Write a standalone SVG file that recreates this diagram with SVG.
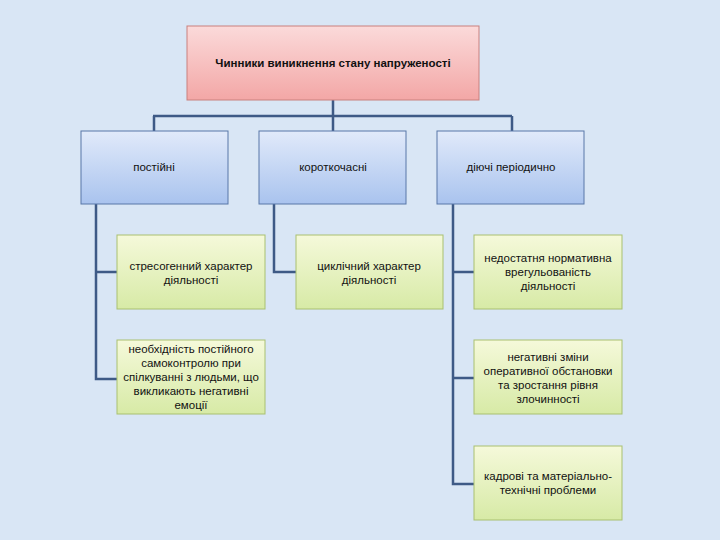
<svg xmlns="http://www.w3.org/2000/svg" width="720" height="540" viewBox="0 0 720 540">
<defs>
<linearGradient id="gPink" x1="0" y1="0" x2="0" y2="1"><stop offset="0" stop-color="#fbdada"/><stop offset="1" stop-color="#f3a7a6"/></linearGradient>
<linearGradient id="gBlue" x1="0" y1="0" x2="0" y2="1"><stop offset="0" stop-color="#e1eafa"/><stop offset="1" stop-color="#a9c3ee"/></linearGradient>
<linearGradient id="gGreen" x1="0" y1="0" x2="0" y2="1"><stop offset="0" stop-color="#f5f9da"/><stop offset="1" stop-color="#d7eaa6"/></linearGradient>
<style>
.bg{fill:#d9e6f5}
.pink{fill:url(#gPink);stroke:#c9807e;stroke-width:1}
.blue{fill:url(#gBlue);stroke:#5877a8;stroke-width:1}
.green{fill:url(#gGreen);stroke:#a9c071;stroke-width:1}
.conn{fill:none;stroke:#3e5a86;stroke-width:2.5}
text{font-family:"Liberation Sans","DejaVu Sans",sans-serif;font-size:11.5px;fill:#111;text-anchor:middle}
.title{font-weight:bold;font-size:11.5px}
</style>
</defs>
<rect class="bg" x="0" y="0" width="720" height="540"/>
<g id="connectors">
<path class="conn" d="M333 100V116M153 116H512M154 116V131M333 116V131M512 116V131"/>
<path class="conn" d="M96 204V379H117M96 272H117"/>
<path class="conn" d="M274 204V272H296"/>
<path class="conn" d="M453 204V484H474M453 272H474M453 378H474"/>
</g>
<g id="root"><rect class="pink" x="187" y="26" width="292" height="74"/><text class="title" x="333" y="67">Чинники виникнення стану напруженості</text></g>
<g id="n1"><rect class="blue" x="81" y="131" width="147" height="73"/><text x="154" y="171">постійні</text></g>
<g id="n2"><rect class="blue" x="259" y="131" width="147" height="73"/><text x="333" y="171">короткочасні</text></g>
<g id="n3"><rect class="blue" x="437" y="131" width="147" height="73"/><text x="511" y="171">діючі періодично</text></g>
<g id="n1a"><rect class="green" x="117" y="235" width="148" height="74"/><text x="191" y="270">стресогенний характер</text><text x="191" y="284">діяльності</text></g>
<g id="n1b"><rect class="green" x="117" y="340" width="148" height="74"/><text x="191" y="353">необхідність постійного</text><text x="191" y="367">самоконтролю при</text><text x="191" y="381">спілкуванні з людьми, що</text><text x="191" y="395">викликають негативні</text><text x="191" y="409">емоції</text></g>
<g id="n2a"><rect class="green" x="296" y="235" width="147" height="74"/><text x="369" y="270">циклічний характер</text><text x="369" y="284">діяльності</text></g>
<g id="n3a"><rect class="green" x="474" y="235" width="148" height="74"/><text x="548" y="262">недостатня нормативна</text><text x="548" y="276">врегульованість</text><text x="548" y="290">діяльності</text></g>
<g id="n3b"><rect class="green" x="474" y="340" width="148" height="74"/><text x="548" y="361">негативні зміни</text><text x="548" y="375">оперативної обстановки</text><text x="548" y="389">та зростання рівня</text><text x="548" y="403">злочинності</text></g>
<g id="n3c"><rect class="green" x="474" y="446" width="148" height="74"/><text x="548" y="480">кадрові та матеріально-</text><text x="548" y="494">технічні проблеми</text></g>
</svg>
